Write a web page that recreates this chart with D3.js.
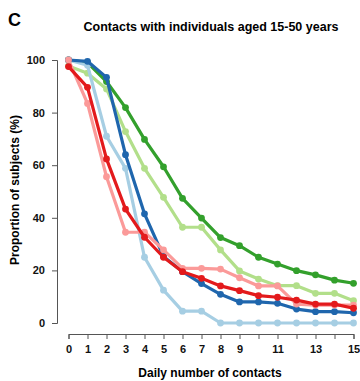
<!DOCTYPE html>
<html lang="en">
  <head>
    <meta charset="UTF-8">
    <title>Contacts with individuals aged 15-50 years</title>
    <script src="https://d3js.org/d3.v7.min.js"></script>
    <style>
      body {
        margin: 0;
        padding: 0;
        background-color: #fff;
        font-family: 'Liberation Sans', Arial, sans-serif;
      }
      .axis path,
      .axis line {
        fill: none;
        stroke: #555;
        stroke-width: 1;
      }
      .axis text {
        font-size: 11px;
        font-weight: bold;
        fill: #111;
      }
    </style>
  </head>
  <body>
    <div id="chart"></div>
    <script>
      const contacts = d3.range(0, 16);
      const xTickLabels = [0, 1, 2, 3, 4, 5, 6, 7, 8, 9, 11, 13, 15];
      const yTicks = [0, 20, 40, 60, 80, 100];

      const lightGreen = [97.7, 95, 89, 72.8, 58.8, 47.8, 36.4, 36.4, 27.8, 19.8, 16.7, 14.2, 14.2, 11.3, 11.3, 8.5];
      const darkGreen = [100, 99, 91.8, 81.9, 69.8, 59.4, 47.4, 39.9, 32.5, 29.4, 25, 22.4, 19.9, 18.3, 16.3, 15.1];
      const lightBlue = [100, 98, 71, 58.8, 25, 12.5, 4.5, 4.5, 0, 0, 0, 0, 0, 0, 0, 0];
      const darkBlue = [100, 99.5, 93.4, 64, 41.5, 25.3, 19.5, 15, 10.9, 8, 8, 7.5, 5.3, 4.3, 4.3, 3.9];
      const pink = [100, 83.5, 55.6, 34.5, 34.5, 27.8, 20.8, 20.8, 20.5, 17.2, 14.1, 14.1, 7.2, 6.8, 6.8, 6.8];
      const red = [97.5, 89.6, 62.4, 43.3, 32.6, 25, 19.5, 17, 14.1, 12.3, 10.4, 9.8, 8.7, 7.2, 7.2, 5.6];

      const series = [
        { values: lightGreen, color: "#b2df8a" },
        { values: darkGreen, color: "#33a02c" },
        { values: lightBlue, color: "#a6cee3" },
        { values: darkBlue, color: "#1f66ad" },
        { values: pink, color: "#fb9a99" },
        { values: red, color: "#e31a1c" }
      ];

      const width = 360, height = 381;
      const svg = d3.select("#chart").append("svg").attr("width", width).attr("height", height);

      const x = d3.scaleLinear().domain([0, 15]).range([68.5, 353.5]);
      const y = d3.scaleLinear().domain([0, 100]).range([323, 60]);

      // panel letter and title
      svg.append("text").attr("x", 8).attr("y", 26).style("font-size", "18px").style("font-weight", "bold").text("C");
      svg.append("text").attr("x", 211).attr("y", 31).attr("text-anchor", "middle")
        .style("font-size", "12.5px").style("font-weight", "bold").text("Contacts with individuals aged 15-50 years");

      // axes
      const xAxis = d3.axisBottom(x).tickValues(contacts).tickSize(5).tickPadding(6)
        .tickFormat(d => xTickLabels.includes(d) ? d : "");
      svg.append("g").attr("class", "axis").attr("transform", "translate(0,334)").call(xAxis);

      const yAxis = d3.axisLeft(y).tickValues(yTicks).tickSize(5).tickPadding(7);
      svg.append("g").attr("class", "axis").attr("transform", "translate(57,0)").call(yAxis);

      svg.append("text").attr("x", 210).attr("y", 377).attr("text-anchor", "middle")
        .style("font-size", "12px").style("font-weight", "bold").text("Daily number of contacts");
      svg.append("text").attr("transform", "translate(19,190) rotate(-90)").attr("text-anchor", "middle")
        .style("font-size", "12px").style("font-weight", "bold").text("Proportion of subjects (%)");

      const line = d3.line().x((d, i) => x(contacts[i])).y(d => y(d));

      series.forEach(s => {
        const g = svg.append("g");
        g.append("path").datum(s.values).attr("d", line).attr("fill", "none")
          .attr("stroke", s.color).attr("stroke-width", 3.2).attr("stroke-linejoin", "round");
        g.selectAll("circle").data(s.values).enter().append("circle")
          .attr("cx", (d, i) => x(contacts[i])).attr("cy", d => y(d)).attr("r", 3.4).attr("fill", s.color);
      });
    </script>
  </body>
</html>
